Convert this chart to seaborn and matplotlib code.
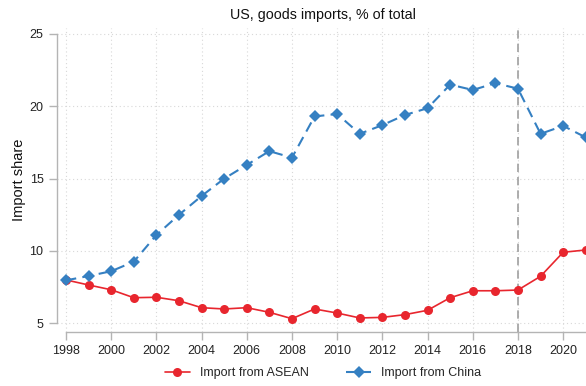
import matplotlib
matplotlib.use("Agg")
import matplotlib.pyplot as plt
import seaborn as sns
import pandas as pd

years = list(range(1998, 2022))
asean = [8.0, 7.65, 7.32, 6.77, 6.8, 6.56, 6.08, 5.99, 6.08, 5.76, 5.32, 5.99,
         5.71, 5.37, 5.41, 5.6, 5.9, 6.77, 7.25, 7.25, 7.3, 8.25, 9.91, 10.07]
china = [7.97, 8.27, 8.6, 9.26, 11.1, 12.5, 13.8, 15.0, 15.95, 16.9, 16.45, 19.3,
         19.47, 18.1, 18.7, 19.4, 19.87, 21.5, 21.13, 21.6, 21.22, 18.1, 18.65, 17.85]
yticks = [5, 10, 15, 20, 25]
xticks = list(range(1998, 2021, 2))
policy_year = 2018

sns.set_style("white")
plt.rcParams["font.family"] = ["Liberation Sans", "DejaVu Sans"]

df = pd.DataFrame({"year": years, "asean": asean, "china": china})

W, H = 586, 386
fig = plt.figure(figsize=(W / 100, H / 100), dpi=100)
left, right, bottom, top = 56.7, 617.4, 331.7, 28.2
ax = fig.add_axes([left / W, 1 - bottom / H, (right - left) / W, (bottom - top) / H])

red = "#e8262e"
blue = "#3580c2"

ax.axvline(policy_year, color="#a0a0a0", lw=1.2, ls=(0, (5, 3)), zorder=1)

sns.lineplot(data=df, x="year", y="asean", ax=ax, color=red, lw=1.2,
             marker="o", markersize=6.5, markeredgewidth=0, label="Import from ASEAN", zorder=3)
sns.lineplot(data=df, x="year", y="china", ax=ax, color=blue, lw=1.5,
             linestyle=(0, (5, 3)), marker="D", markersize=6, markeredgewidth=0,
             label="Import from China", zorder=4)

ax.set_xlim(1997.59, 2022.4)
ax.set_ylim(4.42, 25.4)
ax.set_xticks(xticks)
ax.set_yticks(yticks)
ax.grid(True, color="#d8d8d8", ls=(0, (1, 2.5)), lw=0.8)
ax.set_axisbelow(True)
# grid continues past the last labelled year
ax.axvline(2022, color="#d8d8d8", ls=(0, (1, 2.5)), lw=0.8, zorder=0)

for s in ["top", "right"]:
    ax.spines[s].set_visible(False)
for s in ["left", "bottom"]:
    ax.spines[s].set_color("#b4b4b4")
    ax.spines[s].set_linewidth(1.0)
ax.spines["left"].set_bounds(5, 25)
ax.spines["bottom"].set_bounds(1998, 2022.4)

ax.tick_params(axis="both", which="major", length=6, width=1.0, color="#b4b4b4",
               labelsize=9, labelcolor="#222222", pad=3.5, left=True, bottom=True)

ax.set_xlabel("")
ax.set_ylabel("Import share", fontsize=10.5, labelpad=2.5, color="#111111")
fig.text(323 / W, 1 - 15 / H, "US, goods imports, % of total", ha="center", va="center",
         fontsize=10.3, color="#111111")

ax.get_legend().remove()
handles, labels = ax.get_legend_handles_labels()
fig.legend(handles, labels, loc="center", bbox_to_anchor=(323 / W, 1 - 373 / H), ncol=2,
           frameon=False, fontsize=9, handlelength=2.0, columnspacing=3.0, handletextpad=0.8)

fig.savefig("out.png", dpi=100)
